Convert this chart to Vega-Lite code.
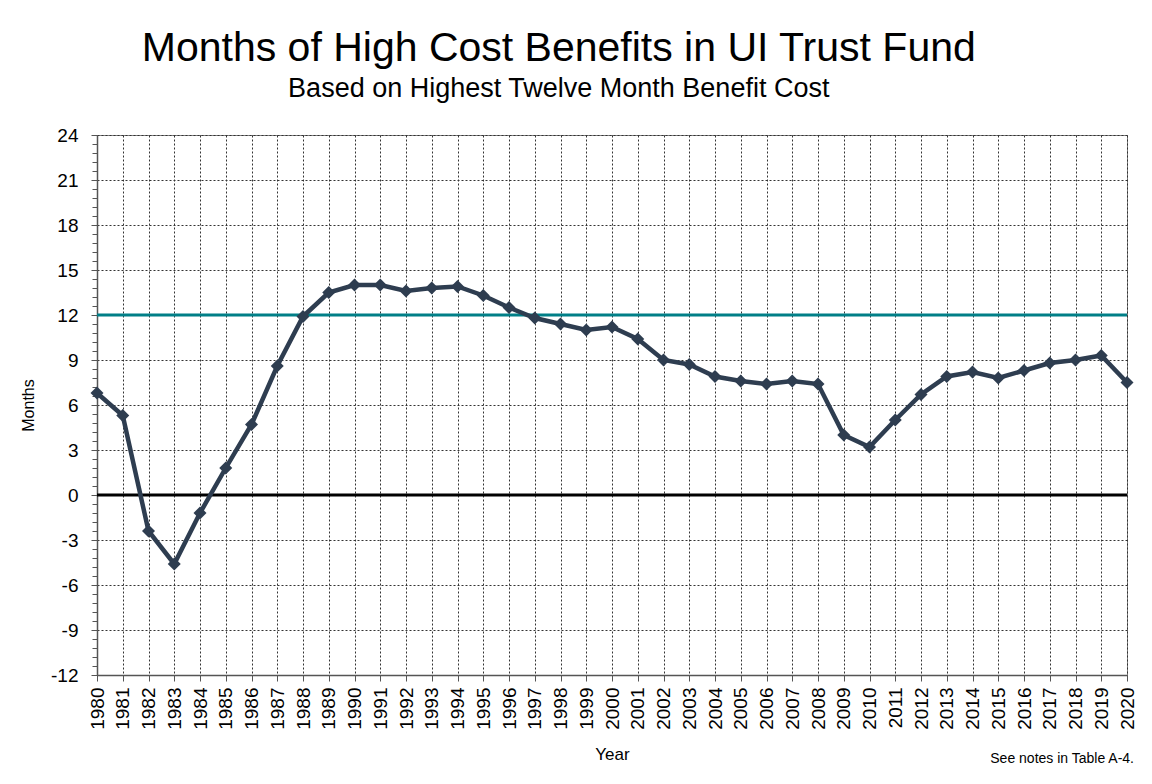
{
  "$schema": "https://vega.github.io/schema/vega-lite/v6.json",
  "background": "white",
  "padding": {"left": 20, "top": 27, "right": 10, "bottom": 5},
  "title": {
    "text": "Months of High Cost Benefits in UI Trust Fund",
    "subtitle": "Based on Highest Twelve Month Benefit Cost",
    "anchor": "middle",
    "font": "Liberation Sans",
    "fontSize": 41,
    "fontWeight": "normal",
    "color": "black",
    "subtitleFont": "Liberation Sans",
    "subtitleFontSize": 27,
    "subtitleColor": "black",
    "subtitlePadding": 6,
    "offset": 23,
    "dx": -20
  },
  "config": {
    "view": {"stroke": "#808080", "strokeWidth": 1},
    "axis": {
      "labelFont": "Liberation Sans",
      "titleFont": "Liberation Sans",
      "labelColor": "black",
      "titleColor": "black",
      "titleFontWeight": "normal",
      "domainColor": "#555555",
      "domainWidth": 1.5,
      "tickColor": "#555555",
      "tickWidth": 1,
      "gridColor": "#333333",
      "gridDash": [2, 2],
      "gridWidth": 1,
      "gridOpacity": 1
    }
  },
  "datasets": {
    "series": [
      {"year": 1980, "months": 6.8},
      {"year": 1981, "months": 5.3},
      {"year": 1982, "months": -2.4},
      {"year": 1983, "months": -4.6},
      {"year": 1984, "months": -1.2},
      {"year": 1985, "months": 1.8},
      {"year": 1986, "months": 4.7},
      {"year": 1987, "months": 8.6},
      {"year": 1988, "months": 11.9},
      {"year": 1989, "months": 13.5},
      {"year": 1990, "months": 14.0},
      {"year": 1991, "months": 14.0},
      {"year": 1992, "months": 13.6},
      {"year": 1993, "months": 13.8},
      {"year": 1994, "months": 13.9},
      {"year": 1995, "months": 13.3},
      {"year": 1996, "months": 12.5},
      {"year": 1997, "months": 11.8},
      {"year": 1998, "months": 11.4},
      {"year": 1999, "months": 11.0},
      {"year": 2000, "months": 11.2},
      {"year": 2001, "months": 10.4},
      {"year": 2002, "months": 9.0},
      {"year": 2003, "months": 8.7},
      {"year": 2004, "months": 7.9},
      {"year": 2005, "months": 7.6},
      {"year": 2006, "months": 7.4},
      {"year": 2007, "months": 7.6},
      {"year": 2008, "months": 7.4},
      {"year": 2009, "months": 4.0},
      {"year": 2010, "months": 3.2},
      {"year": 2011, "months": 5.0},
      {"year": 2012, "months": 6.7},
      {"year": 2013, "months": 7.9},
      {"year": 2014, "months": 8.2},
      {"year": 2015, "months": 7.8},
      {"year": 2016, "months": 8.3},
      {"year": 2017, "months": 8.8},
      {"year": 2018, "months": 9.0},
      {"year": 2019, "months": 9.3},
      {"year": 2020, "months": 7.5}
    ]
  },
  "vconcat": [
    {
      "width": 1030,
      "height": 540,
      "title": {
        "text": "See notes  in Table A-4.",
        "orient": "bottom",
        "anchor": "end",
        "frame": "group",
        "font": "Liberation Sans",
        "fontSize": 14,
        "fontWeight": "normal",
        "color": "black",
        "offset": -10,
        "dx": 7
      },
      "resolve": {"axis": {"y": "independent"}},
      "layer": [
        {
          "data": {"values": [{"level": 0}]},
          "mark": {"type": "rule", "color": "black", "strokeWidth": 3},
          "encoding": {
            "y": {"field": "level", "type": "quantitative", "axis": null,
                  "scale": {"domain": [-12, 24], "nice": false, "zero": false}}
          }
        },
        {
          "data": {"values": [{"level": 12}]},
          "mark": {"type": "rule", "color": "#007F87", "strokeWidth": 3},
          "encoding": {
            "y": {"field": "level", "type": "quantitative",
                  "scale": {"domain": [-12, 24], "nice": false, "zero": false},
                  "axis": {"orient": "left", "labels": false, "grid": false, "domain": false, "title": null, "tickSize": 5,
                           "values": [-12,-11.4,-10.8,-10.2,-9.6,-9,-8.4,-7.8,-7.2,-6.6,-6,-5.4,-4.8,-4.2,-3.6,-3,-2.4,-1.8,-1.2,-0.6,0,0.6,1.2,1.8,2.4,3,3.6,4.2,4.8,5.4,6,6.6,7.2,7.8,8.4,9,9.6,10.2,10.8,11.4,12,12.6,13.2,13.8,14.4,15,15.6,16.2,16.8,17.4,18,18.6,19.2,19.8,20.4,21,21.6,22.2,22.8,23.4,24]}}
          }
        },
        {
          "data": {"name": "series"},
          "mark": {"type": "line", "color": "#2E3D50", "strokeWidth": 4.5,
                   "point": {"shape": "diamond", "size": 170, "filled": true, "color": "#2E3D50", "opacity": 1}},
          "encoding": {
            "x": {"field": "year", "type": "quantitative",
                  "scale": {"domain": [1980, 2020], "nice": false, "zero": false},
                  "axis": {"title": "Year", "titleFontSize": 17, "titlePadding": 17, "grid": true,
                           "labelExpr": "'' + datum.value", "labelAngle": 270, "labelAlign": "right", "labelBaseline": "middle",
                           "labelFontSize": 19, "labelPadding": 6, "tickSize": 6, "labelOverlap": false, "labelFlush": false,
                           "values": [1980,1981,1982,1983,1984,1985,1986,1987,1988,1989,1990,1991,1992,1993,1994,1995,1996,1997,1998,1999,2000,2001,2002,2003,2004,2005,2006,2007,2008,2009,2010,2011,2012,2013,2014,2015,2016,2017,2018,2019,2020]}},
            "y": {"field": "months", "type": "quantitative",
                  "scale": {"domain": [-12, 24], "nice": false, "zero": false},
                  "axis": {"orient": "left", "title": "Months", "titleFontSize": 16, "titlePadding": 14, "grid": true,
                           "labelExpr": "'' + datum.value",
                           "labelFontSize": 19, "labelPadding": 13, "tickSize": 6, "labelFlush": false, "labelOverlap": false,
                           "values": [-12,-9,-6,-3,0,3,6,9,12,15,18,21,24]}}
          }
        }
      ]
    }
  ]
}
